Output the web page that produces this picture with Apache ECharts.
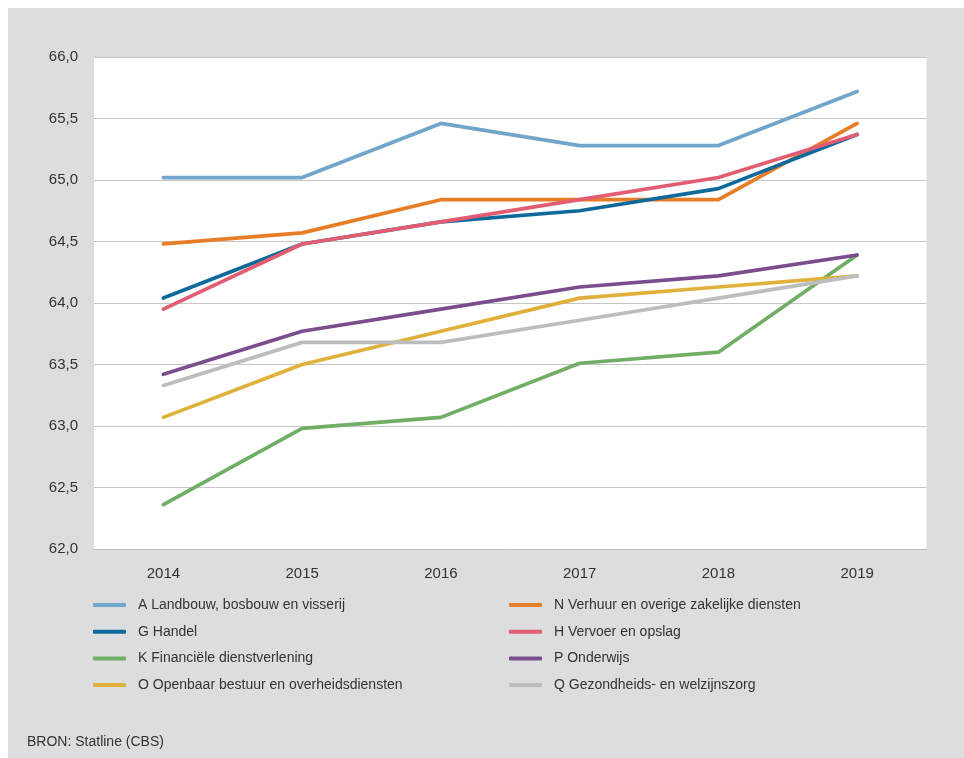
<!DOCTYPE html>
<html>
<head>
<meta charset="utf-8">
<script src="https://cdn.jsdelivr.net/npm/echarts@6/dist/echarts.min.js"></script>
<style>
  html, body { margin: 0; padding: 0; background: #ffffff; }
  #wrap { position: relative; width: 964px; height: 758px; background: #ffffff; }
  #chart { position: absolute; left: 8px; top: 8px; width: 956px; height: 750px; background: #dcdddf; }
</style>
</head>
<body>
<div id="wrap"><div id="chart"></div></div>
<script>
// Years on the x axis
const years = ['2014', '2015', '2016', '2017', '2018', '2019'];

// Y axis range and step
const yMin = 62;
const yMax = 66;
const yStep = 0.5;

// Values per sector
const landbouw   = [65.02, 65.02, 65.46, 65.28, 65.28, 65.72];
const verhuur    = [64.48, 64.57, 64.84, 64.84, 64.84, 65.46];
const handel     = [64.04, 64.48, 64.66, 64.75, 64.93, 65.37];
const vervoer    = [63.95, 64.48, 64.66, 64.84, 65.02, 65.37];
const financieel = [62.36, 62.98, 63.07, 63.51, 63.60, 64.39];
const onderwijs  = [63.42, 63.77, 63.95, 64.13, 64.22, 64.39];
const openbaar   = [63.07, 63.50, 63.77, 64.04, 64.13, 64.22];
const zorg       = [63.33, 63.68, 63.68, 63.86, 64.04, 64.22];

// Series names
const names = {
  A: 'A Landbouw, bosbouw en visserij',
  N: 'N Verhuur en overige zakelijke diensten',
  G: 'G Handel',
  H: 'H Vervoer en opslag',
  K: 'K Financiële dienstverlening',
  P: 'P Onderwijs',
  O: 'O Openbaar bestuur en overheidsdiensten',
  Q: 'Q Gezondheids- en welzijnszorg'
};

const colors = {
  A: '#71a5c9',
  N: '#e87d27',
  G: '#0f6a9b',
  H: '#e25d72',
  K: '#70ae66',
  P: '#7a4e8c',
  O: '#dfb03a',
  Q: '#bcbdbf'
};

const sourceText = 'BRON: Statline (CBS)';

const font = '"Liberation Sans", Arial, "DejaVu Sans", sans-serif';

function line(key, values) {
  return {
    name: names[key],
    type: 'line',
    data: values,
    symbol: 'none',
    smooth: false,
    color: colors[key],
    lineStyle: { width: 3.7, color: colors[key], cap: 'round', join: 'round' },
    emphasis: { disabled: true }
  };
}

const legendCommon = {
  orient: 'vertical',
  top: 587,
  padding: 0,
  itemWidth: 33,
  itemHeight: 4,
  itemGap: 6.7,
  icon: 'roundRect',
  selectedMode: false,
  textStyle: {
    fontFamily: font,
    fontSize: 14,
    color: '#333333',
    lineHeight: 20,
    padding: [0, 0, 0, 7]
  }
};

const chart = echarts.init(document.getElementById('chart'), null, { renderer: 'canvas' });

chart.setOption({
  animation: false,
  backgroundColor: 'transparent',
  grid: {
    left: 86,
    right: 37.5,
    top: 49,
    bottom: 209,
    show: true,
    backgroundColor: '#ffffff',
    borderWidth: 0
  },
  xAxis: {
    type: 'category',
    data: years,
    boundaryGap: true,
    axisLine: { show: true, lineStyle: { color: '#bdbdbd', width: 1 } },
    axisTick: { show: false },
    axisLabel: { color: '#333333', fontFamily: font, fontSize: 15, margin: 17 }
  },
  yAxis: {
    type: 'value',
    min: yMin,
    max: yMax,
    interval: yStep,
    axisLine: { show: false },
    axisTick: { show: false },
    splitLine: { show: true, lineStyle: { color: '#c6c6c6', width: 1 } },
    axisLabel: {
      color: '#333333',
      fontFamily: font,
      fontSize: 15,
      margin: 16,
      formatter: v => v.toFixed(1).replace('.', ',')
    }
  },
  legend: [
    Object.assign({}, legendCommon, {
      left: 85,
      data: [names.A, names.G, names.K, names.O]
    }),
    Object.assign({}, legendCommon, {
      left: 501,
      data: [names.N, names.H, names.P, names.Q]
    })
  ],
  graphic: [{
    type: 'text',
    left: 19,
    top: 727,
    style: { text: sourceText, fontFamily: font, fontSize: 14, fill: '#333333' }
  }],
  series: [
    line('A', landbouw),
    line('N', verhuur),
    line('G', handel),
    line('H', vervoer),
    line('K', financieel),
    line('P', onderwijs),
    line('O', openbaar),
    line('Q', zorg)
  ]
});
</script>
</body>
</html>
